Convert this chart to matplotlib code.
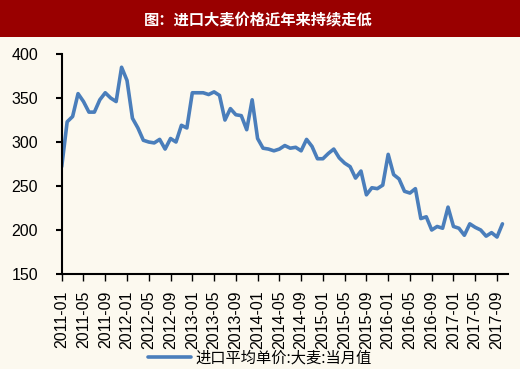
import numpy as np
import matplotlib
matplotlib.use("Agg")
import matplotlib.pyplot as plt
from matplotlib.patches import Rectangle

plt.rcParams['font.family'] = ['Liberation Sans', 'Noto Sans CJK SC', 'DejaVu Sans']

title = "图：进口大麦价格近年来持续走低"
series_name = "进口平均单价:大麦:当月值"

# monthly values, 2011-01 .. 2017-10
prices = [
    272, 323, 329, 355, 346, 334, 334, 348, 356, 350, 346, 385,
    370, 327, 316, 302, 300, 299, 303, 292, 304, 300, 319, 316,
    356, 356, 356, 354, 357, 353, 325, 338, 331, 330, 314, 348,
    304, 293, 292, 290, 292, 296, 293, 294, 290, 303, 295, 281,
    281, 287, 292, 282, 276, 272, 259, 267, 240, 248, 247, 251,
    286, 263, 258, 244, 242, 247, 213, 215, 200, 204, 202, 226,
    204, 202, 194, 207, 203, 200, 193, 197, 192, 207,
]
months = [f"{2011 + i // 12}-{i % 12 + 1:02d}" for i in range(len(prices))]
tick_labels = months[::4]
y_ticks = [150, 200, 250, 300, 350, 400]

bg = '#FCF9EF'
fig = plt.figure(figsize=(5.2, 3.69), dpi=100, facecolor=bg)

# title band
fig.patches.append(Rectangle((0, 0.9), 1, 0.1, transform=fig.transFigure,
                             facecolor='#990000', edgecolor='none'))
fig.text(0.497, 0.948, title, color='white', fontsize=11, fontweight='bold',
         ha='center', va='center', family=['Noto Sans CJK SC', 'DejaVu Sans'])

ax = fig.add_axes([0.1187, 0.2575, 0.858, 0.596])
ax.set_facecolor(bg)
x = np.arange(len(prices))
line, = ax.plot(x, prices, color='#4A7EBB', lw=2.6,
                solid_capstyle='round', solid_joinstyle='round')

ax.set_xlim(0, 82)
ax.set_ylim(150, 400)
ax.set_yticks(y_ticks)
ax.set_xticks(x[::4])
ax.set_xticklabels(tick_labels, rotation=90, fontsize=11.5)
ax.tick_params(axis='y', labelsize=11.5, length=4, width=1.5, pad=13)
ax.tick_params(axis='x', length=5, width=1, pad=7)
for s in ['top', 'right']:
    ax.spines[s].set_visible(False)
ax.spines['left'].set_linewidth(1.5)
ax.spines['bottom'].set_linewidth(1.5)

fig.legend([line], [series_name], loc='center', bbox_to_anchor=(0.5, 0.03),
           frameon=False, handlelength=2.8, handletextpad=0.3,
           prop={'family': ['Noto Sans CJK SC', 'DejaVu Sans'], 'size': 11})

fig.savefig('out.png', dpi=100, facecolor=bg)
